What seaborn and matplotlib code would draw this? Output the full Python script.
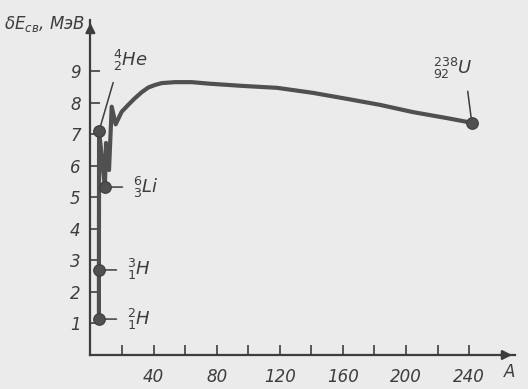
import matplotlib

matplotlib.use("Agg")
import matplotlib.pyplot as plt
import pandas as pd
import seaborn as sns

# binding energy per nucleon curve (A, MeV)
curve_a = [5.4, 5.4, 5.5, 9.2, 9.9, 11.8, 13.5, 16.0, 19.8, 24.0, 28.2, 32.5, 36.7,
           40.9, 45.2, 53.6, 64.2, 75.7, 96.6, 118.2, 141.0, 162.5, 183.4, 204.3,
           225.8, 241.7]
curve_e = [1.14, 2.70, 7.11, 5.33, 6.73, 5.87, 7.88, 7.32, 7.72, 7.94, 8.15, 8.34, 8.49,
           8.57, 8.63, 8.66, 8.66, 8.61, 8.54, 8.48, 8.32, 8.13, 7.94, 7.71,
           7.52, 7.37]

# marked nuclides
nuc_a = [5.4, 5.4, 5.5, 9.2, 241.7]
nuc_e = [1.14, 2.70, 7.11, 5.33, 7.37]
nuc_labels = [r"${}^{2}_{1}H$", r"${}^{3}_{1}H$", r"${}^{4}_{2}He$",
              r"${}^{6}_{3}Li$", r"${}^{238}_{92}U$"]

y_ticks = [1, 2, 3, 4, 5, 6, 7, 8, 9]
x_ticks = [20, 40, 60, 80, 100, 120, 140, 160, 180, 200, 220, 240]
x_tick_labels = ["", "40", "", "80", "", "120", "", "160", "", "200", "", "240"]

INK = "#3d3d3d"
PAPER = "#ebebeb"

sns.set_theme(style="ticks")
plt.rcParams["font.family"] = ["DejaVu Sans"]
plt.rcParams["mathtext.fontset"] = "dejavusans"

fig = plt.figure(figsize=(5.28, 3.89), dpi=100, facecolor=PAPER)
ax = fig.add_axes([0.1712, 0.0874, 0.804, 0.861])
ax.set_facecolor(PAPER)

df = pd.DataFrame({"A": curve_a, "E": curve_e})
sns.lineplot(data=df, x="A", y="E", sort=False, estimator=None,
             color="#505050", lw=3, ax=ax)
sns.scatterplot(x=nuc_a, y=nuc_e, s=70, color="#505050", edgecolor=INK,
                linewidth=0.8, zorder=5, ax=ax)

ax.set_xlim(0, 269)
ax.set_ylim(0, 10.63)

# axes drawn like the book: two arrows
for side in ["top", "right"]:
    ax.spines[side].set_visible(False)
for side in ["left", "bottom"]:
    ax.spines[side].set_color(INK)
    ax.spines[side].set_linewidth(1.6)
ax.annotate("", xy=(1.0, 0), xytext=(0.96, 0), xycoords="axes fraction",
            arrowprops=dict(arrowstyle="-|>", color=INK, lw=1.6, mutation_scale=14))
ax.annotate("", xy=(0, 1.0), xytext=(0, 0.96), xycoords="axes fraction",
            arrowprops=dict(arrowstyle="-|>", color=INK, lw=1.6, mutation_scale=14))

ax.set_yticks(y_ticks)
ax.set_yticklabels([str(v) for v in y_ticks])
ax.set_xticks(x_ticks)
ax.set_xticklabels(x_tick_labels)
ax.tick_params(axis="both", direction="in", length=7, width=1.2, color=INK,
               labelcolor=INK, labelsize=12)
ax.tick_params(axis="y", pad=7)
ax.tick_params(axis="x", pad=9)
for lab in ax.get_xticklabels() + ax.get_yticklabels():
    lab.set_fontstyle("italic")
ax.set_xlabel("")
ax.set_ylabel("")

# nuclide labels with leader lines (offsets in points)
offsets = [(20, 0), (20, 0), (10, 42), (20, 0), (-14, 30)]
rel = [(0, 0.5), (0, 0.5), (0.1, 0.05), (0, 0.5), (0.85, 0.05)]
aligns = [("left", "center"), ("left", "center"), ("left", "bottom"),
          ("left", "center"), ("center", "bottom")]
for a, e, lab, off, rp, (ha, va) in zip(nuc_a, nuc_e, nuc_labels, offsets, rel, aligns):
    ax.annotate(lab, xy=(a, e), xytext=off, textcoords="offset points",
                ha=ha, va=va, fontsize=13, color=INK,
                arrowprops=dict(arrowstyle="-", color=INK, lw=1.1,
                                relpos=rp, shrinkA=5, shrinkB=0))

fig.text(0.008, 0.925, r"$\delta E_{св}$, МэВ", fontsize=12, color=INK,
         fontstyle="italic")
fig.text(0.955, 0.03, "A", fontsize=12, color=INK, fontstyle="italic")

fig.savefig("out.png", dpi=100, facecolor=PAPER)
